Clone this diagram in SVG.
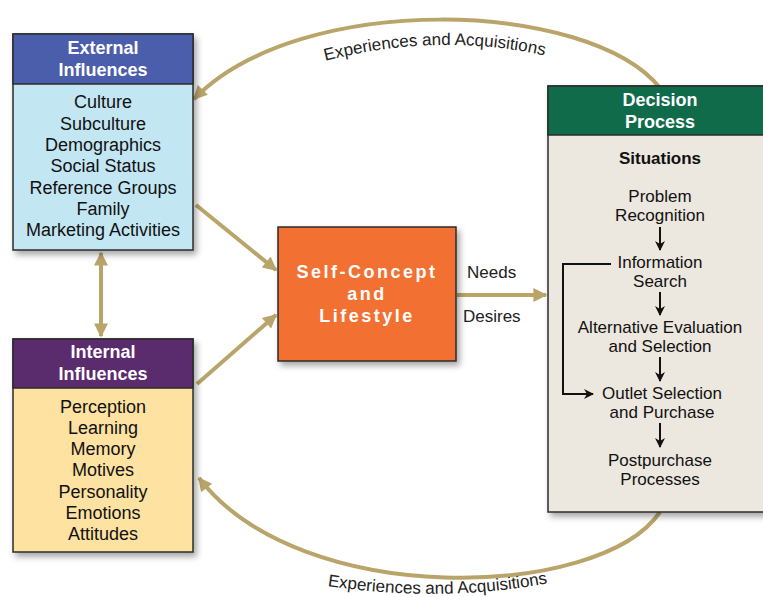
<svg xmlns="http://www.w3.org/2000/svg" width="763" height="597" viewBox="0 0 763 597">
<defs>
<filter id="sh" x="-10%" y="-10%" width="130%" height="130%"><feDropShadow dx="3" dy="4" stdDeviation="3" flood-color="#000" flood-opacity="0.35"/></filter>
<marker id="tan" viewBox="0 0 10 10" refX="9" refY="5" markerWidth="16" markerHeight="14" markerUnits="userSpaceOnUse" orient="auto-start-reverse"><path d="M0,0 L10,5 L0,10 Z" fill="#b9a46a"/></marker>
<marker id="blk" viewBox="0 0 10 10" refX="9" refY="5" markerWidth="10" markerHeight="12" markerUnits="userSpaceOnUse" orient="auto"><path d="M0,0 L10,5 L0,10 L3,5 Z" fill="#111"/></marker>
<path id="tp1" d="M 300 68 Q 440 25 570 62"/>
<path id="tp2" d="M 310 583 Q 440 606 565 580"/>
</defs>
<style>
.box{stroke:#2b2b2b;stroke-width:1.5}
.hd{font-family:"Liberation Sans",Arial,sans-serif;font-size:18px;font-weight:bold;fill:#fff;text-anchor:middle}
.tx{font-family:"Liberation Sans",Arial,sans-serif;font-size:18px;fill:#111;text-anchor:middle}
.dx{font-family:"Liberation Sans",Arial,sans-serif;font-size:17px;fill:#111;text-anchor:middle}
.lb{font-family:"Liberation Sans",Arial,sans-serif;font-size:17px;fill:#222}
.tan{fill:none;stroke:#b9a46a;stroke-width:4}
.bk{fill:none;stroke:#111;stroke-width:2}
</style>
<rect width="763" height="597" fill="#fff"/>
<g id="connectors">
<path class="tan" d="M 660 88 C 590 0, 300 -10, 194 99" marker-end="url(#tan)"/>
<path class="tan" d="M 660 512 C 600 600, 300 610, 199 478" marker-end="url(#tan)"/>
<path class="tan" d="M 196 205 L 276 270" marker-end="url(#tan)"/>
<path class="tan" d="M 197 384 L 276 315" marker-end="url(#tan)"/>
<path class="tan" d="M 101 253 L 101 336" marker-start="url(#tan)" marker-end="url(#tan)"/>
<path class="tan" d="M 457 295 L 546 295" marker-end="url(#tan)"/>
<text class="lb" font-size="16"><textPath href="#tp1" startOffset="50%" text-anchor="middle">Experiences and Acquisitions</textPath></text>
<text class="lb" font-size="16"><textPath href="#tp2" startOffset="50%" text-anchor="middle">Experiences and Acquisitions</textPath></text>
<text class="lb" x="467" y="278">Needs</text>
<text class="lb" x="463" y="322">Desires</text>
</g>
<g id="external">
<rect class="box" x="13" y="34" width="180" height="216" fill="#c3e6f3" filter="url(#sh)"/>
<rect class="box" x="13" y="34" width="180" height="50" fill="#4b5eab"/>
<text class="hd" x="103" y="54">External</text>
<text class="hd" x="103" y="76">Influences</text>
<text class="tx" x="103" y="108">Culture</text>
<text class="tx" x="103" y="130">Subculture</text>
<text class="tx" x="103" y="151">Demographics</text>
<text class="tx" x="103" y="172">Social Status</text>
<text class="tx" x="103" y="194">Reference Groups</text>
<text class="tx" x="103" y="215">Family</text>
<text class="tx" x="103" y="236">Marketing Activities</text>
</g>
<g id="internal">
<rect class="box" x="13" y="339" width="180" height="213" fill="#fde2a2" filter="url(#sh)"/>
<rect class="box" x="13" y="339" width="180" height="49" fill="#5a2b6d"/>
<text class="hd" x="103" y="358">Internal</text>
<text class="hd" x="103" y="380">Influences</text>
<text class="tx" x="103" y="413">Perception</text>
<text class="tx" x="103" y="434">Learning</text>
<text class="tx" x="103" y="455">Memory</text>
<text class="tx" x="103" y="476">Motives</text>
<text class="tx" x="103" y="498">Personality</text>
<text class="tx" x="103" y="519">Emotions</text>
<text class="tx" x="103" y="540">Attitudes</text>
</g>
<g id="self">
<rect class="box" x="278" y="227" width="178" height="134" fill="#f26f33" filter="url(#sh)"/>
<text class="hd" x="367" y="278" font-size="17" letter-spacing="2.5" fill="#fde9cf">Self-Concept</text>
<text class="hd" x="367" y="300" font-size="17" letter-spacing="2.5" fill="#fde9cf">and</text>
<text class="hd" x="367" y="322" font-size="17" letter-spacing="2.5" fill="#fde9cf">Lifestyle</text>
</g>
<g id="decision">
<rect class="box" x="548" y="86" width="230" height="426" fill="#ece7df" filter="url(#sh)"/>
<rect class="box" x="548" y="86" width="230" height="49" fill="#106b4b"/>
<text class="hd" x="660" y="106">Decision</text>
<text class="hd" x="660" y="128">Process</text>
<text class="dx" x="660" y="164" font-weight="bold">Situations</text>
<text class="dx" x="660" y="202">Problem</text>
<text class="dx" x="660" y="221">Recognition</text>
<text class="dx" x="660" y="268">Information</text>
<text class="dx" x="660" y="287">Search</text>
<text class="dx" x="660" y="333">Alternative Evaluation</text>
<text class="dx" x="660" y="352">and Selection</text>
<text class="dx" x="662" y="399">Outlet Selection</text>
<text class="dx" x="662" y="418">and Purchase</text>
<text class="dx" x="660" y="466">Postpurchase</text>
<text class="dx" x="660" y="485">Processes</text>
<path class="bk" d="M 660 227 L 660 250" marker-end="url(#blk)"/>
<path class="bk" d="M 660 292 L 660 315" marker-end="url(#blk)"/>
<path class="bk" d="M 660 357 L 660 381" marker-end="url(#blk)"/>
<path class="bk" d="M 660 423 L 660 447" marker-end="url(#blk)"/>
<path class="bk" d="M 611 264 L 563 264 L 563 394 L 593 394" marker-end="url(#blk)"/>
</g>
</svg>
